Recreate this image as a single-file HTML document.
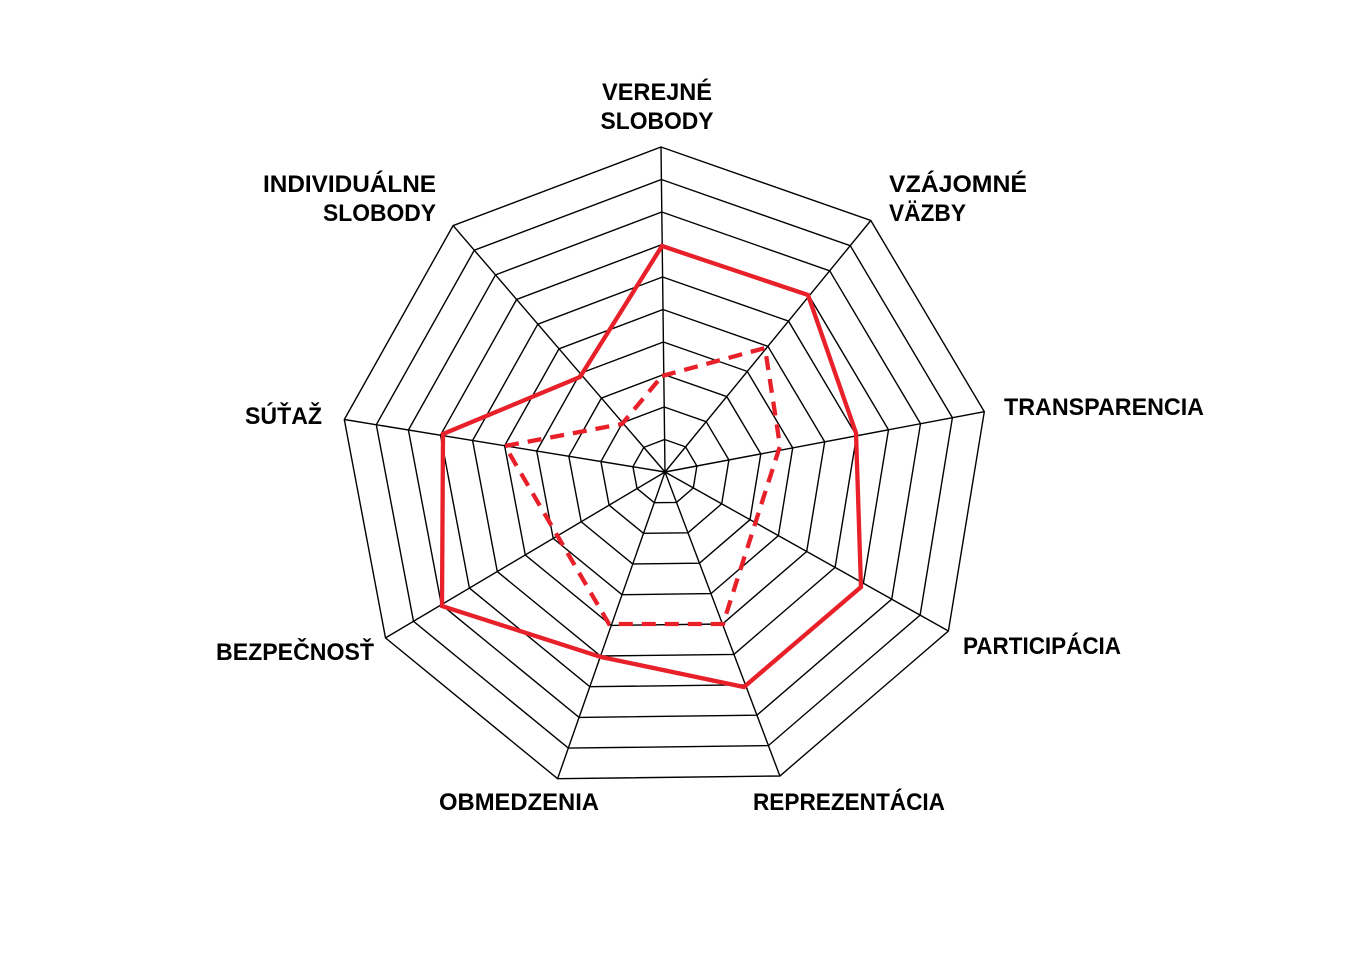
<!DOCTYPE html>
<html><head><meta charset="utf-8">
<style>
html,body{margin:0;padding:0;background:#fff;}
svg{display:block;}
text{font-family:"Liberation Sans",Arial,sans-serif;font-weight:bold;font-size:24px;fill:#000;}
</style></head>
<body>
<svg id="s" width="1360" height="962" viewBox="0 0 1360 962" xmlns="http://www.w3.org/2000/svg">
<g id="grid" fill="none" stroke="#000" stroke-width="1.4" stroke-linejoin="miter"></g>
<polygon points="662,246 808,295 856,433 861,587 744,687 601,657 442,606 443,434 580,377" fill="none" stroke="#e8202a" stroke-width="4.3" stroke-linejoin="miter"/>
<polygon points="662,376 765,348 780,446 723,624 609,624 505,446 622,424" fill="none" stroke="#e8202a" stroke-width="4.3" stroke-dasharray="14,9"/>
<text x="657" y="100" text-anchor="middle" textLength="110" lengthAdjust="spacingAndGlyphs">VEREJNÉ</text>
<text x="657" y="129" text-anchor="middle" textLength="113" lengthAdjust="spacingAndGlyphs">SLOBODY</text>
<text x="263" y="192" textLength="173" lengthAdjust="spacingAndGlyphs">INDIVIDUÁLNE</text>
<text x="323" y="221" textLength="113" lengthAdjust="spacingAndGlyphs">SLOBODY</text>
<text x="889" y="192" textLength="138" lengthAdjust="spacingAndGlyphs">VZÁJOMNÉ</text>
<text x="889" y="221" textLength="77" lengthAdjust="spacingAndGlyphs">VÄZBY</text>
<text x="1004" y="415" textLength="200" lengthAdjust="spacingAndGlyphs">TRANSPARENCIA</text>
<text x="963" y="654" textLength="158" lengthAdjust="spacingAndGlyphs">PARTICIPÁCIA</text>
<text x="753" y="810" textLength="192" lengthAdjust="spacingAndGlyphs">REPREZENTÁCIA</text>
<text x="439" y="810" textLength="160" lengthAdjust="spacingAndGlyphs">OBMEDZENIA</text>
<text x="216" y="660" textLength="158" lengthAdjust="spacingAndGlyphs">BEZPEČNOSŤ</text>
<text x="245" y="424" textLength="77" lengthAdjust="spacingAndGlyphs">SÚŤAŽ</text>
</svg>
<script>
(function(){
var cx=665,cy=472,R=325,g=document.getElementById('grid'),h='';
function pt(k,r){var a=(-90.7+40*k)*Math.PI/180;return [(cx+r*Math.cos(a)).toFixed(1),(cy+r*Math.sin(a)).toFixed(1)];}
for(var i=1;i<=10;i++){var p=[];for(var k=0;k<9;k++){p.push(pt(k,R*i/10).join(','));}
h+='<polygon points="'+p.join(' ')+'"/>';}
for(var k=0;k<9;k++){var q=pt(k,R);h+='<line x1="'+cx+'" y1="'+cy+'" x2="'+q[0]+'" y2="'+q[1]+'"/>';}
g.innerHTML=h;
})();
</script>
</body></html>
